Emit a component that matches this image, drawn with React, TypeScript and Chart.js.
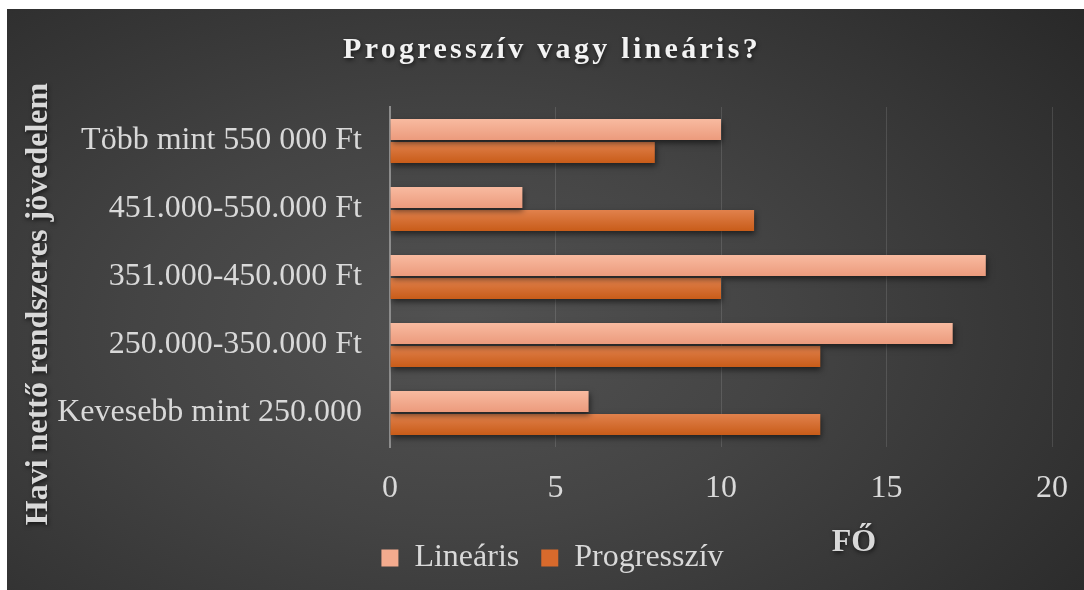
import React, { useEffect, useRef } from "react";
import { Chart, registerables } from "chart.js";

Chart.register(...registerables);

const categories = [
  "Több mint 550 000 Ft",
  "451.000-550.000 Ft",
  "351.000-450.000 Ft",
  "250.000-350.000 Ft",
  "Kevesebb mint 250.000",
];
const linearis = [10, 4, 18, 17, 6];
const progressziv = [8, 11, 10, 13, 13];
const seriesNames = ["Lineáris", "Progresszív"];
const xMin = 0;
const xMax = 20;
const xStep = 5;
const chartTitle = "Progresszív vagy lineáris?";
const yAxisTitle = "Havi nettő rendszeres jövedelem";
const xAxisTitle = "FŐ";

const FONT = "'Liberation Serif', 'Times New Roman', serif";
const CAT_PCT = 0.68;
const BAR_PCT = 0.91;
const LEGEND_SHIFT = 23;

const palettes = [
  { top: "#f9bca2", bottom: "#eb997b", solid: "#f4ab8e" },
  { top: "#e2834f", bottom: "#c75a16", solid: "#d86a2c" },
];

function barFill(ctx: any) {
  const chart = ctx.chart;
  const yScale = chart.scales?.y;
  const pal = palettes[ctx.datasetIndex] || palettes[0];
  if (!yScale || ctx.dataIndex === undefined) return pal.solid;
  const center = yScale.getPixelForValue(ctx.dataIndex);
  const band = (yScale.bottom - yScale.top) / categories.length;
  const half = (band * CAT_PCT) / 2;
  const y0 = ctx.datasetIndex === 0 ? center - half : center;
  const y1 = ctx.datasetIndex === 0 ? center : center + half;
  if (!isFinite(y0) || !isFinite(y1)) return pal.solid;
  const g = chart.ctx.createLinearGradient(0, y0, 0, y1);
  g.addColorStop(0, pal.top);
  g.addColorStop(1, pal.bottom);
  return g;
}

const decorPlugin = {
  id: "decor",
  afterLayout(chart: any) {
    const lg = chart.legend;
    if (lg) {
      lg.left += LEGEND_SHIFT;
      lg.right += LEGEND_SHIFT;
    }
  },
  beforeDatasetsDraw(chart: any) {
    const c = chart.ctx;
    c.save();
    c.shadowColor = "rgba(0,0,0,0.55)";
    c.shadowBlur = 6;
    c.shadowOffsetX = 1;
    c.shadowOffsetY = 3;
  },
  afterDatasetsDraw(chart: any) {
    chart.ctx.restore();
  },
  afterDraw(chart: any) {
    const c = chart.ctx;
    c.save();
    c.textAlign = "center";
    c.textBaseline = "alphabetic";
    c.shadowColor = "rgba(0,0,0,0.6)";
    c.shadowBlur = 4;
    c.shadowOffsetX = 1;
    c.shadowOffsetY = 2;
    // chart title
    c.fillStyle = "#f2f2f2";
    c.font = `bold 30px ${FONT}`;
    (c as any).letterSpacing = "3.3px";
    c.fillText(chartTitle, 545, 49);
    (c as any).letterSpacing = "0px";
    // x axis title
    c.fillStyle = "#d9d9d9";
    c.font = `bold 32px ${FONT}`;
    c.fillText(xAxisTitle, 847, 542);
    // y axis title
    c.translate(40, 295);
    c.rotate(-Math.PI / 2);
    c.fillText(yAxisTitle, 0, 0);
    c.restore();
  },
};

export default function App() {
  const ref = useRef<HTMLCanvasElement | null>(null);

  useEffect(() => {
    if (!ref.current) return;
    Chart.defaults.font.family = FONT;
    const chart = new Chart(ref.current, {
      type: "bar",
      data: {
        labels: categories,
        datasets: [
          {
            label: seriesNames[0],
            data: linearis,
            backgroundColor: barFill as any,
            borderWidth: 0,
            categoryPercentage: CAT_PCT,
            barPercentage: BAR_PCT,
          },
          {
            label: seriesNames[1],
            data: progressziv,
            backgroundColor: barFill as any,
            borderWidth: 0,
            categoryPercentage: CAT_PCT,
            barPercentage: BAR_PCT,
          },
        ],
      },
      options: {
        indexAxis: "y",
        animation: false,
        responsive: false,
        devicePixelRatio: 1,
        layout: { padding: { top: 98, right: 32, bottom: 6, left: 0 } },
        scales: {
          x: {
            min: xMin,
            max: xMax,
            ticks: {
              stepSize: xStep,
              color: "#d9d9d9",
              font: { size: 32, family: FONT, lineHeight: 1.7 },
              padding: 14,
            },
            grid: {
              color: "rgba(255,255,255,0.12)",
              lineWidth: 1,
              drawTicks: false,
            },
            border: { display: false },
            afterFit: (s: any) => {
              s.height = 73;
            },
          },
          y: {
            ticks: {
              color: "#d9d9d9",
              font: { size: 32, family: FONT },
              padding: 28,
            },
            grid: { display: false, drawTicks: false },
            border: { display: true, color: "#8c8c8c", width: 2 },
            afterFit: (s: any) => {
              s.width = 383;
            },
          },
        },
        plugins: {
          title: { display: false },
          tooltip: { enabled: false },
          legend: {
            display: true,
            position: "bottom",
            labels: {
              color: "#d9d9d9",
              font: { size: 32, family: FONT },
              boxWidth: 17,
              boxHeight: 17,
              padding: 22,
              generateLabels: (ch: any) => {
                const items = Chart.defaults.plugins.legend.labels.generateLabels(ch);
                return items.map((it: any, i: number) => ({
                  ...it,
                  fillStyle: palettes[i].solid,
                  strokeStyle: palettes[i].solid,
                  lineWidth: 0,
                }));
              },
            },
          },
        },
      },
      plugins: [decorPlugin],
    });
    return () => chart.destroy();
  }, []);

  return (
    <div
      style={{
        position: "absolute",
        left: 7,
        top: 9,
        width: 1077,
        height: 581,
        background:
          "radial-gradient(ellipse 75% 85% at 42% 55%, #525252 0%, #444444 40%, #292929 100%)",
      }}
    >
      <canvas ref={ref} width={1077} height={581} style={{ display: "block", width: 1077, height: 581 }} />
    </div>
  );
}
